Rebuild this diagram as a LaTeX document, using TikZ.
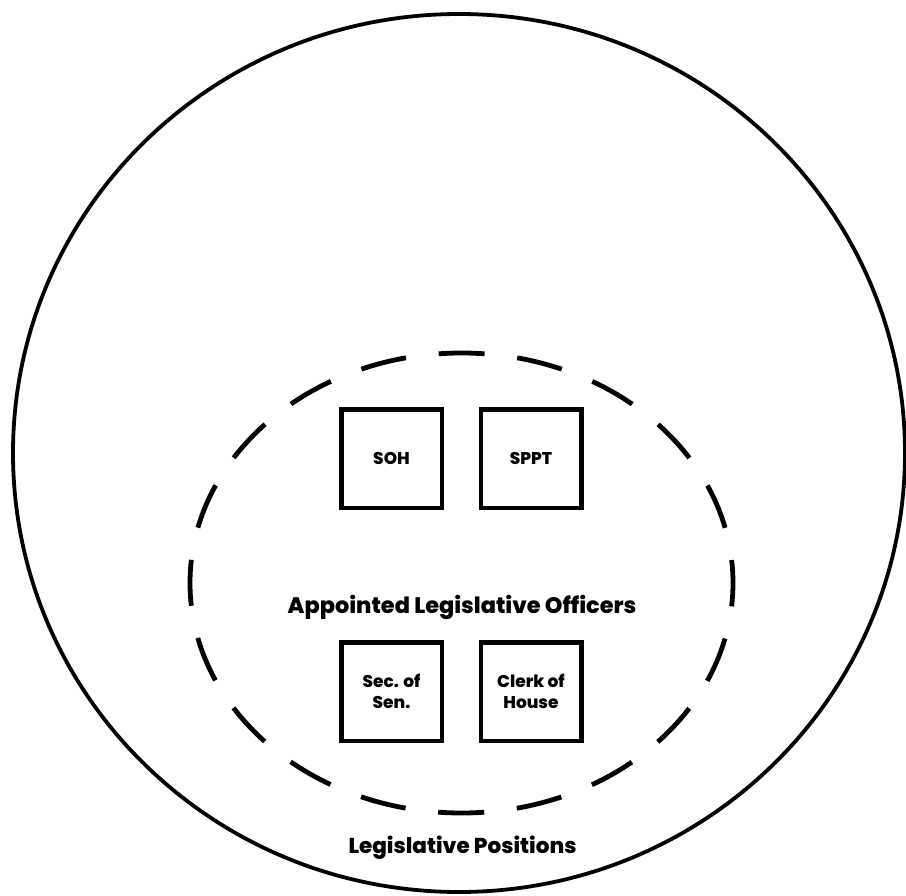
\documentclass[tikz,border=0pt]{standalone}
\usepackage{fontspec}
\setmainfont{Poppins}[UprightFont=* ExtraBold,BoldFont=* Black]
\begin{document}
\begin{tikzpicture}[x=1pt,y=-1pt,
  officebox/.style={draw=black,line width=4.5pt,inner sep=0pt,minimum width=100.5pt,minimum height=98.5pt,align=center,font=\fontsize{17}{20.5}\selectfont},
  grouplabel/.style={font=\fontsize{21.5}{24}\selectfont,anchor=base,inner sep=0pt}]
\useasboundingbox (0,0) rectangle (906,896);
% outer circle
\draw[line width=3.8pt] (459,453) ellipse [x radius=446pt, y radius=439pt];
% dashed ellipse
\draw[line width=4.8pt,dash pattern=on 46pt off 32.9pt,dash phase=23pt] (461.5,583) ellipse [x radius=271.5pt, y radius=230pt];
% boxes
\node[officebox] (soh) at (391.5,458.5) {SOH};
\node[officebox] (sppt) at (531,458.5) {SPPT};
\node[officebox] (sec) at (391.5,691.5) {Sec. of\\Sen.};
\node[officebox] (clerk) at (531,691.5) {Clerk of\\House};
% labels
\node[grouplabel,font=\fontsize{22.4}{24}\selectfont] (alo) at (462,613) {Appointed Legislative Officers};
\node[grouplabel] (lp) at (462.5,853) {Legislative Positions};
\end{tikzpicture}
\end{document}
